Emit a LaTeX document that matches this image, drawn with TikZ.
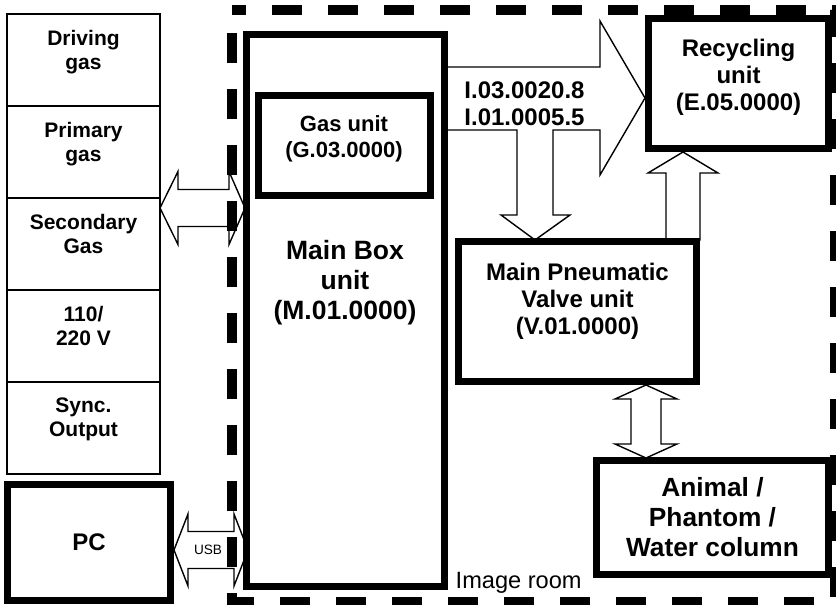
\documentclass[tikz,border=0pt]{standalone}
\usepackage{fontspec}
\setmainfont{Liberation Sans}
\usetikzlibrary{positioning, backgrounds}

\begin{document}
\begin{tikzpicture}[
  x=1pt, y=1pt,
  cell/.style={draw, line width=1.3pt, outer sep=0pt, inner sep=0pt, minimum width=153pt, minimum height=92pt},
  celltxt/.style={font=\bfseries\fontsize{21pt}{24pt}\selectfont, align=center, inner sep=0pt},
  unit/.style={draw, line width=7pt, fill=white, inner sep=0pt, align=center},
  unittxt/.style={font=\bfseries\fontsize{24pt}{27pt}\selectfont, align=center, inner sep=0pt},
  blockarrow/.style={draw, line width=1.4pt, fill=white, line join=miter},
  roomframe/.style={line width=9.5pt, dash pattern=on 30pt off 26pt, dash phase=16.5pt}
]
\useasboundingbox (0,0) rectangle (836,605);

% Supply column
\node[cell] (drivegas) at (83.5,545) {};
\node[cell, below=0pt of drivegas] (primgas) {};
\node[cell, below=0pt of primgas] (secgas) {};
\node[cell, below=0pt of secgas] (mains) {};
\node[cell, below=0pt of mains] (syncout) {};

\node[celltxt, below=16pt of drivegas.north] (drivegastxt) {Driving\\gas};
\node[celltxt, below=16pt of primgas.north] (primgastxt) {Primary\\gas};
\node[celltxt, below=16pt of secgas.north] (secgastxt) {Secondary\\Gas};
\node[celltxt, below=16pt of mains.north] (mainstxt) {110/\\220 V};
\node[celltxt, below=16pt of syncout.north] (syncouttxt) {Sync.\\Output};

% PC
\node[unit, minimum width=163pt, minimum height=116pt, font=\bfseries\fontsize{24pt}{27pt}\selectfont] (pc) at (89,62.5) {PC};

% Image room units
\node[unit, minimum width=198pt, minimum height=552pt] (mainbox) at (345,294) {};
\node[unit, minimum width=172pt, minimum height=100pt] (gasunit) at (344,459) {};
\node[unit, minimum width=180pt, minimum height=130pt] (recyc) at (738.5,521.5) {};
\node[unit, minimum width=238pt, minimum height=140pt] (valve) at (577.5,293.5) {};
\node[unit, minimum width=232pt, minimum height=114pt, font=\bfseries\fontsize{26.3pt}{30pt}\selectfont] (animal) at (712.5,87.5) {Animal /\\Phantom /\\Water column};

\node[unittxt, font=\bfseries\fontsize{26.5pt}{30pt}\selectfont, below=208.5pt of mainbox.north] (mainboxtxt) {Main Box\\unit\\(M.01.0000)};
\node[unittxt, font=\bfseries\fontsize{22pt}{26pt}\selectfont, below=22.5pt of gasunit.north] (gasunittxt) {Gas unit\\(G.03.0000)};
\node[unittxt, below=24pt of recyc.north] (recyctxt) {Recycling\\unit\\(E.05.0000)};
\node[unittxt, below=25pt of valve.north] (valvetxt) {Main Pneumatic\\Valve unit\\(V.01.0000)};

% Block arrows
\begin{scope}[on background layer]
  \draw[blockarrow] ([yshift=-14.5pt]recyc.west) -- ++(-45,77) -- ++(0,-46) -- ++(-155,0) -- ++(0,-63)
    -- ++(72,0) -- ++(0,-85) -- ++(-16,0) -- ++(34,-25) -- ++(35,25) -- ++(-17,0) -- ++(0,85)
    -- ++(47,0) -- ++(0,-45) -- cycle;
  \draw[blockarrow] ([xshift=-55.5pt]recyc.south) -- ++(35,-21) -- ++(-18,0) -- ++(0,-67)
    -- ++(-34,0) -- ++(0,67) -- ++(-18,0) -- cycle;
  \draw[blockarrow] ([xshift=68.5pt]valve.south) -- ++(31,-14) -- ++(-16,0) -- ++(0,-45) -- ++(16,0)
    -- ++(-31,-14) -- ++(-31,14) -- ++(16,0) -- ++(0,45) -- ++(-16,0) -- cycle;
  \draw[blockarrow] ([yshift=36pt]secgas.east) -- ++(18,36.5) -- ++(0,-18) -- ++(51,0) -- ++(0,18)
    -- ++(16,-36.5) -- ++(-16,-36.5) -- ++(0,18) -- ++(-51,0) -- ++(0,-18) -- cycle;
  \draw[blockarrow] ([yshift=-7.5pt]pc.east) -- ++(14,36) -- ++(0,-17.5) -- ++(46,0) -- ++(0,17.5)
    -- ++(14,-36) -- ++(-14,-36) -- ++(0,17.5) -- ++(-46,0) -- ++(0,-17.5) -- cycle;
\end{scope}

\node[unittxt, anchor=north] (flowtxt) at (524.5,523) {I.03.0020.8\\I.01.0005.5};
\node[font=\fontsize{13.6pt}{16pt}\selectfont, inner sep=0pt] (usbtxt) at ([xshift=34pt,yshift=-7.5pt]pc.east) {USB};
\node[font=\fontsize{23.6pt}{28pt}\selectfont, anchor=base west, inner sep=0pt] (roomtxt) at ([xshift=8pt,yshift=1.5pt]mainbox.south east) {Image room};

% Image room border
\draw[roomframe] (232,595) -- (834.5,595) -- (834.5,3) -- (232,3) -- cycle;

\end{tikzpicture}
\end{document}
